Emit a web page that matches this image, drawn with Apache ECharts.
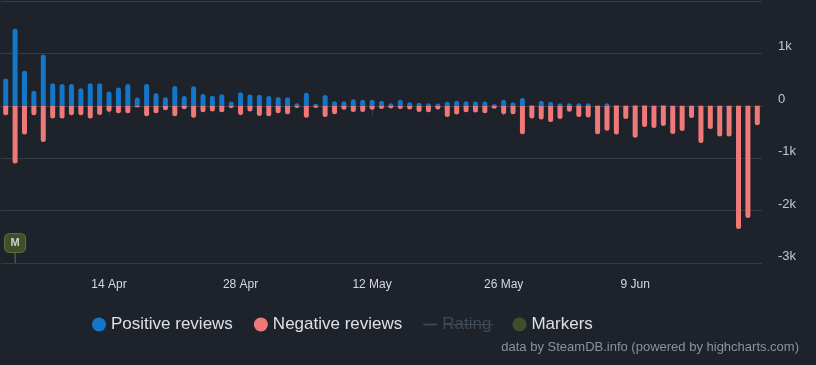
<!DOCTYPE html>
<html><head><meta charset="utf-8">
<script src="https://cdn.jsdelivr.net/npm/echarts@6/dist/echarts.min.js"></script>
<style>html,body{margin:0;padding:0;background:#1e222a;}#c{width:816px;height:365px;}</style>
</head><body><div id="c"></div>
<script>
const categories = [
'3 Apr','4 Apr','5 Apr','6 Apr','7 Apr','8 Apr','9 Apr','10 Apr','11 Apr','12 Apr','13 Apr','14 Apr','15 Apr','16 Apr','17 Apr','18 Apr','19 Apr','20 Apr','21 Apr','22 Apr','23 Apr','24 Apr','25 Apr','26 Apr','27 Apr','28 Apr','29 Apr','30 Apr',
'1 May','2 May','3 May','4 May','5 May','6 May','7 May','8 May','9 May','10 May','11 May','12 May','13 May','14 May','15 May','16 May','17 May','18 May','19 May','20 May','21 May','22 May','23 May','24 May','25 May','26 May','27 May','28 May','29 May','30 May','31 May',
'1 Jun','2 Jun','3 Jun','4 Jun','5 Jun','6 Jun','7 Jun','8 Jun','9 Jun','10 Jun','11 Jun','12 Jun','13 Jun','14 Jun','15 Jun','16 Jun','17 Jun','18 Jun','19 Jun','20 Jun','21 Jun','22 Jun'];
const positiveReviews = [
520,1470,670,285,980,430,415,415,335,430,430,275,350,415,160,415,240,165,380,185,375,225,190,220,80,260,215,210,185,170,
165,50,250,40,205,85,85,125,115,115,95,50,115,70,60,50,45,75,95,85,80,80,30,115,70,150,10,95,75,50,
50,50,50,5,50,15,5,15,15,5,15,0,0,0,0,0,0,0,0,0,0];
const negativeReviews = [
-180,-1100,-550,-180,-690,-240,-240,-180,-180,-240,-175,-115,-140,-140,-30,-200,-140,-85,-200,-65,-230,-125,-110,-125,-45,-175,-110,-195,-200,-140,
-160,-40,-230,-40,-215,-160,-75,-120,-120,-75,-60,-50,-60,-70,-120,-125,-70,-215,-165,-125,-130,-140,-55,-160,-160,-545,-240,-260,-310,-250,
-115,-215,-225,-545,-475,-550,-250,-610,-405,-425,-385,-540,-480,-235,-710,-445,-585,-585,-2350,-2140,-370];
const markerDates = ['4 Apr'];
const markerLabels = ['M'];
const tickLabelDates = ['14 Apr','28 Apr','12 May','26 May','9 Jun'];
const yMin = -3000, yMax = 2000, yStep = 1000;

const FONT = 'Liberation Sans, Arial, sans-serif';
const chart = echarts.init(document.getElementById('c'), null, {renderer:'canvas'});
const showTick = (i, v) => tickLabelDates.includes(categories[i]);
chart.setOption({
  backgroundColor: '#1e222a',
  animation: false,
  textStyle: {fontFamily: FONT},
  grid: {left: 1, right: 54, top: 1, bottom: 102, containLabel: false},
  title: {
    text: 'data by SteamDB.info (powered by highcharts.com)',
    right: 17, bottom: 11, padding: 0,
    textStyle: {color: '#8b929c', fontSize: 13, fontWeight: 'normal', fontFamily: FONT}
  },
  legend: {
    left: 92, top: 316, padding: 0,
    itemWidth: 14, itemHeight: 14, itemGap: 21,
    textStyle: {color: '#dde1e6', fontSize: 17, fontFamily: FONT},
    inactiveColor: '#3d4957', inactiveBorderColor: '#3d4957',
    selected: {'Rating': false},
    data: [
      {name: 'Positive reviews', icon: 'circle'},
      {name: 'Negative reviews', icon: 'circle'},
      {name: 'Rating', icon: 'path://M0,0H16V2H0Z'},
      {name: 'Markers', icon: 'circle', itemStyle: {borderWidth: 0, color: '#4a5a2b'}}
    ]
  },
  xAxis: {
    type: 'category', data: categories, boundaryGap: true,
    axisLine: {show: true, lineStyle: {color: '#3a414c'}},
    axisTick: {show: true, alignWithLabel: true, interval: showTick, length: 10, lineStyle: {color: '#3a414c'}},
    axisLabel: {interval: showTick, color: '#d5d9de', fontSize: 12, margin: 16, fontFamily: FONT},
    splitLine: {show: false}
  },
  yAxis: {
    type: 'value', position: 'right', min: yMin, max: yMax, interval: yStep,
    axisLine: {show: false}, axisTick: {show: false},
    splitLine: {show: true, lineStyle: {color: '#363c47', width: 1}},
    axisLabel: {
      color: '#c3c8ce', fontSize: 13, margin: 16, verticalAlign: 'bottom', fontFamily: FONT,
      formatter: v => v === yMax ? '' : (v === 0 ? '0' : (v / 1000) + 'k')
    }
  },
  series: [
    {name: 'Positive reviews', type: 'bar', data: positiveReviews, barWidth: 5, barGap: '-100%',
     itemStyle: {color: '#1476c6', borderRadius: [2.5, 2.5, 0, 0]}},
    {name: 'Negative reviews', type: 'bar', data: negativeReviews, barWidth: 5, barGap: '-100%',
     itemStyle: {color: '#ef7878', borderRadius: [0, 0, 2.5, 2.5]}},
    {name: 'Rating', type: 'line', data: [], itemStyle: {color: '#7d8fa3'}, lineStyle: {color: '#7d8fa3'}},
    {name: 'markerStem', type: 'scatter', clip: false, silent: true,
     data: markerDates.map(d => [d, yMin]), symbol: 'rect', symbolSize: [1, 10], symbolOffset: [0, -5],
     itemStyle: {color: '#76825a'}, z: 3},
    {name: 'Markers', type: 'scatter', clip: false,
     data: markerDates.map((d, i) => ({value: [d, yMin], label: {formatter: markerLabels[i]}})),
     symbol: 'roundRect', symbolSize: [21, 19], symbolOffset: [0, -20],
     itemStyle: {color: '#4a5a2b', borderColor: '#6b7b44', borderWidth: 1},
     label: {show: true, position: 'inside', color: '#f0f0f0', fontWeight: 'bold', fontSize: 11, fontFamily: FONT},
     z: 4}
  ],
  graphic: [
    {type: 'line', shape: {x1: 445, y1: 324.5, x2: 493, y2: 324.5}, style: {stroke: '#3d4957', lineWidth: 1}, z: 100}
  ]
});
</script></body></html>
